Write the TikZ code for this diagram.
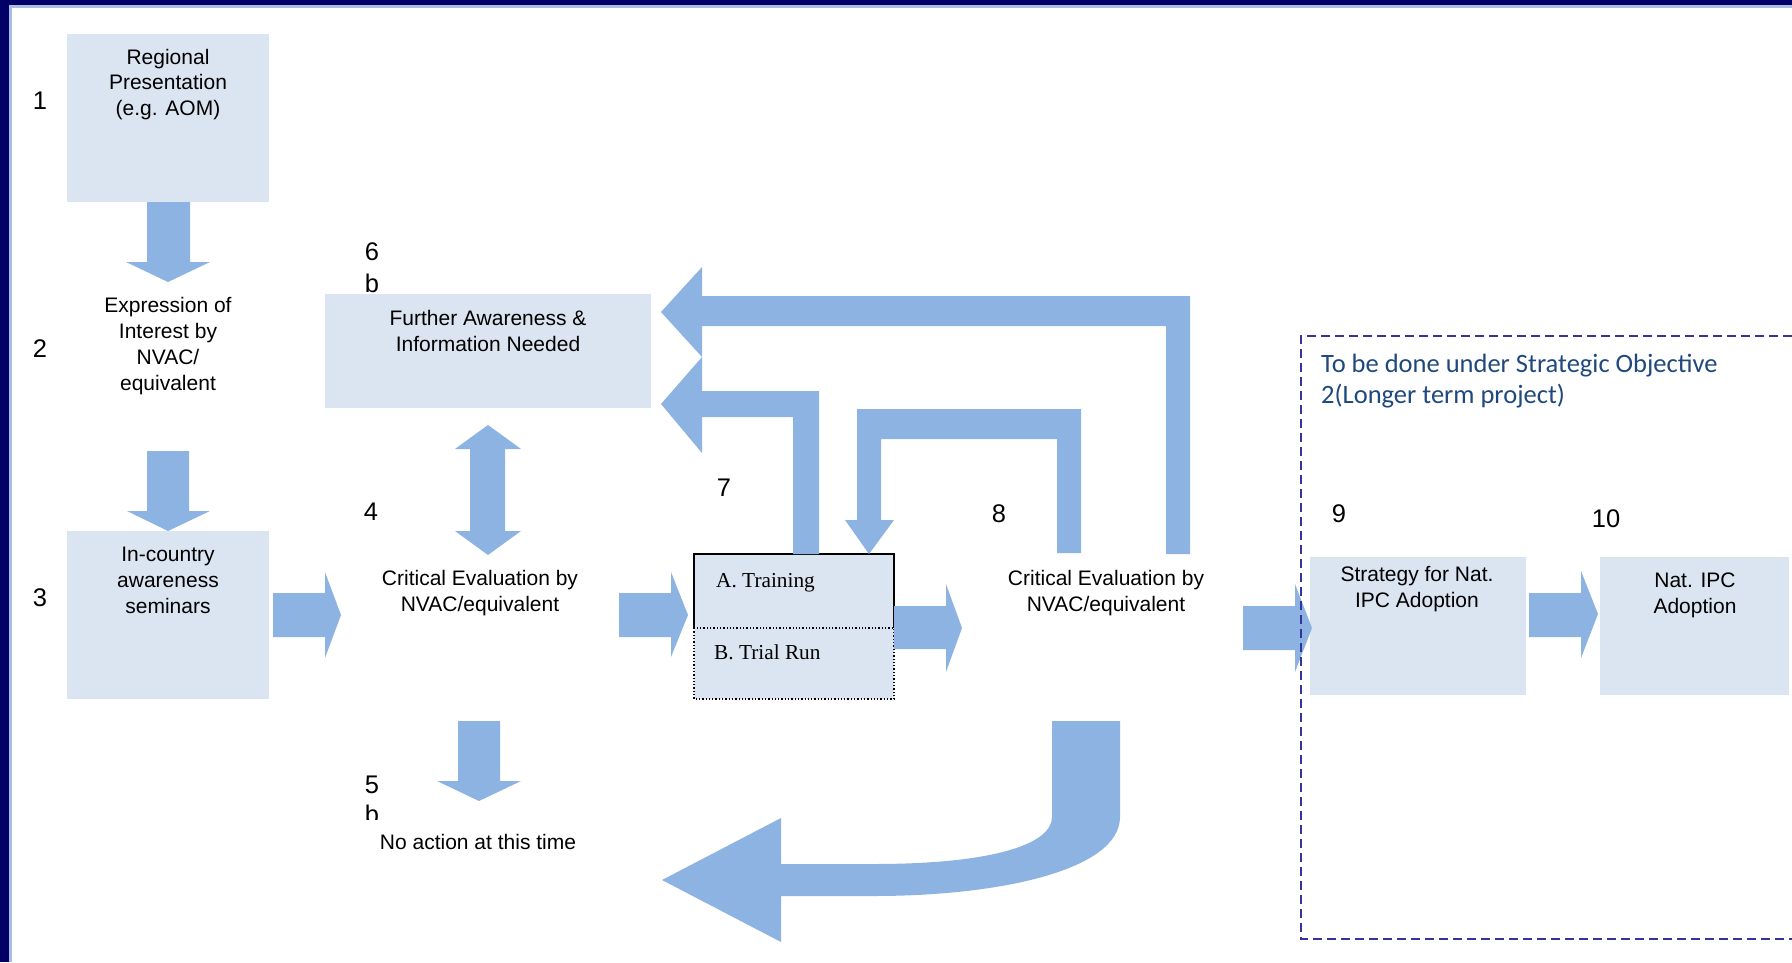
\documentclass[tikz,border=0pt]{standalone}
\usepackage{fontspec}
\setmainfont{Liberation Sans}
\newfontfamily\serifA{Liberation Serif}
\newfontfamily\calib{Carlito}
\definecolor{boxc}{HTML}{DBE5F1}
\definecolor{arrc}{HTML}{8DB3E2}
\definecolor{navyc}{HTML}{000066}
\definecolor{edgec}{HTML}{A9BCE6}
\definecolor{dashc}{HTML}{34349C}
\definecolor{bluetxt}{HTML}{1F497D}
\begin{document}
\begin{tikzpicture}[x=1pt,y=-1pt,
  box/.style={fill=boxc, draw=none, inner sep=0pt, outer sep=0pt},
  arr/.style={fill=arrc, draw=none},
  txt/.style={font=\fontsize{21}{25.7}\selectfont, align=center, inner sep=0pt, anchor=base},
  num/.style={font=\fontsize{25.5}{32}\selectfont, inner sep=0pt, anchor=base},
  sertxt/.style={font=\serifA\fontsize{21.3}{25}\selectfont, inner sep=0pt, anchor=base west},
  bluenote/.style={font=\calib\fontsize{26.5}{31}\selectfont, text=bluetxt, align=left, inner sep=0pt, anchor=base west}
]
\useasboundingbox (0,0) rectangle (1792,962);
\fill[white] (0,0) rectangle (1792,962);
% frame
\fill[edgec] (0,0) rectangle (1792,7.5);
\fill[edgec] (0,0) rectangle (11.5,962);
\fill[navyc] (0,0) rectangle (1792,5);
\fill[navyc] (0,0) rectangle (8.5,962);

% boxes
\node[box, minimum width=202pt, minimum height=168pt] (b1) at (168,118) {};
\node[box, minimum width=202pt, minimum height=168pt] (b3) at (168,615) {};
\node[box, minimum width=326pt, minimum height=114pt] (b6) at (488,351) {};
\node[box, minimum width=216pt, minimum height=138pt] (b9) at (1418,626) {};
\node[box, minimum width=189pt, minimum height=138pt] (b10) at (1694.5,626) {};
\node[box, minimum width=200pt, minimum height=74pt] (b7a) at (794,591) {};
\node[box, minimum width=200pt, minimum height=71pt] (b7b) at (794,663.5) {};
\draw[black, line width=1.3pt, dotted] (b7b.north west) rectangle (b7b.south east);
\draw[black, line width=2pt] (b7a.south west) -- (b7a.north west) -- (b7a.north east) -- (b7a.south east);

% arrows
% 1 -> 2
\fill[arr] (147,202) -- (190,202) -- (190,262) -- (210,262) -- (168,282) -- (126,262) -- (147,262) -- cycle;
% 2 -> 3
\fill[arr] (147,451) -- (189,451) -- (189,511) -- (210,511) -- (168,531) -- (127,511) -- (147,511) -- cycle;
% 3 -> 4
\fill[arr] (273,593) -- (325,593) -- (325,572) -- (341,615) -- (325,658) -- (325,637) -- (273,637) -- cycle;
% 4 <-> 6b
\fill[arr] (488,425) -- (521,449) -- (505,449) -- (505,531) -- (521,531) -- (488,555) -- (455,531) -- (470,531) -- (470,449) -- (455,449) -- cycle;
% 4 -> 5
\fill[arr] (458,721) -- (500,721) -- (500,781) -- (521,781) -- (479,801) -- (437,781) -- (458,781) -- cycle;
% 4 -> 7
\fill[arr] (619,593) -- (671,593) -- (671,572) -- (688,615) -- (671,657) -- (671,637) -- (619,637) -- cycle;
% 7 -> 8
\fill[arr] (894,606) -- (946,606) -- (946,584) -- (962,628) -- (946,672) -- (946,649) -- (894,649) -- cycle;
% 8 -> 6b (top return)
\fill[arr] (1190,554) -- (1190,296) -- (702,296) -- (702,267) -- (661,312) -- (702,357) -- (702,326) -- (1166,326) -- (1166,554) -- cycle;
% 7 -> 6b
\fill[arr] (819,554) -- (819,391) -- (702,391) -- (702,357) -- (661,404) -- (702,453) -- (702,417) -- (793,417) -- (793,554) -- cycle;
% 8 -> 7
\fill[arr] (1081,553) -- (1081,409) -- (857,409) -- (857,520) -- (845,520) -- (869,554) -- (894,520) -- (881,520) -- (881,439) -- (1057,439) -- (1057,553) -- cycle;
% 8 -> 9
\fill[arr] (1243,606) -- (1295,606) -- (1295,584) -- (1312,628) -- (1295,672) -- (1295,650) -- (1243,650) -- cycle;
% 9 -> 10
\fill[arr] (1529,593) -- (1581,593) -- (1581,571) -- (1598,614) -- (1581,658) -- (1581,637) -- (1529,637) -- cycle;
% curved return 8 -> 5
\fill[arr] (1120,721) -- (1120,817) .. controls (1120,870) and (1000,896) .. (874,896) -- (781,896) -- (781,942) -- (662,880) -- (781,818) -- (781,864) -- (874,864) .. controls (990,864) and (1052,845) .. (1052,817) -- (1052,721) -- cycle;

% dashed region
\draw[dashc, line width=2pt, dash pattern=on 9pt off 5pt] (1792,336) -- (1301,336) -- (1301,939) -- (1792,939);

% texts (anchor = baseline of last line)
\node[txt] (t1) at (168,115.4) {Regional\\Presentation\\(e.g. AOM)};
\node[txt] (t2) at (168,390) {Expression of\\Interest by\\NVAC/\\equivalent};
\node[txt] (t3) at (168,613) {In-country\\awareness\\seminars};
\node[txt] (t4) at (480,611) {Critical Evaluation by\\NVAC/equivalent};
\node[txt] (t6) at (488,351) {Further Awareness \&\\Information Needed};
\node[txt] (t5) at (478,849) {No action at this time};
\node[txt] (t8) at (1106,611) {Critical Evaluation by\\NVAC/equivalent};
\node[txt] (t9) at (1417,607) {Strategy for Nat.\\IPC Adoption};
\node[txt] (t10) at (1695,613) {Nat. IPC\\Adoption};
\node[sertxt] (t7a) at (716,587) {A. Training};
\node[sertxt] (t7b) at (714,659) {B. Trial Run};
\node[bluenote] (tnote) at (1321,403) {To be done under Strategic Objective\\2(Longer term project)};

% numbers
\node[num] (n1) at (40,109) {1};
\node[num] (n2) at (40,357) {2};
\node[num] (n3) at (40,606) {3};
\node[num] (n4) at (371,520) {4};
\node[num] (n6) at (372,260) {6};
\node[num] (n6b) at (372,292) {b};
\node[num] (n5) at (372,793) {5};
\begin{scope}
\clip (350,795) rectangle (400,819);
\node[num] (n5b) at (372,823) {b};
\end{scope}
\node[num] (n7) at (724,496) {7};
\node[num] (n8) at (999,522) {8};
\node[num] (n9) at (1339,522) {9};
\node[num] (n10) at (1606,527) {10};
\end{tikzpicture}
\end{document}
